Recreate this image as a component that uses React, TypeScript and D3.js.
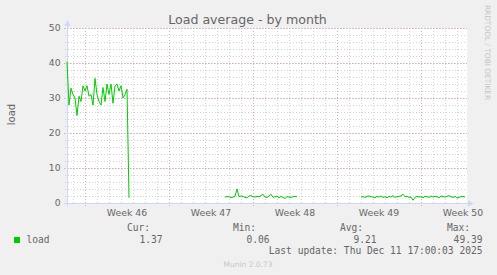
import React from "react";
import * as d3 from "d3";

const TITLE = "Load average - by month";
const Y_LABEL = "load";
const SERIES_NAME = "load";
const SERIES_COLOR = "#00CC00";
const Y_TICKS = [0, 10, 20, 30, 40, 50];
const WEEK_LABELS = ["Week 46", "Week 47", "Week 48", "Week 49", "Week 50"];
const LEGEND_HEADERS = ["Cur:", "Min:", "Avg:", "Max:"];
const LEGEND_VALUES = ["1.37", "0.06", "9.21", "49.39"];
const LAST_UPDATE = "Last update: Thu Dec 11 17:00:03 2025";
const FOOTER = "Munin 2.0.73";
const WATERMARK = "RRDTOOL / TOBI OETIKER";

const RANGE_START = "2025-11-08T12:00:00Z";
const RANGE_END = "2025-12-11T20:00:00Z";
const STEP_HOURS = 4;

const SEG1_START = "2025-11-08T12:00:00Z";
const SEG1 = [
  40.4, 28.0, 32.8, 31.0, 30.0, 25.0, 30.5, 29.0, 33.5, 32.0, 33.5, 30.5, 31.0, 28.0, 35.6, 31.0,
  29.0, 28.0, 33.0, 29.0, 34.0, 31.0, 34.0, 28.5, 33.5, 34.0, 32.0, 33.5, 30.0, 31.0, 32.5, 1.5,
];
const SEG2_START = "2025-11-21T16:00:00Z";
const SEG2 = [
  1.6, 1.9, 1.8, 1.5, 1.7, 1.9, 4.0, 1.8, 2.0, 1.9, 1.6, 1.5, 2.0, 2.1, 1.8, 1.7, 1.9, 1.8, 2.1,
  2.5, 1.7, 1.6, 2.0, 2.5, 1.6, 1.8, 2.0, 1.5, 1.9, 1.6, 1.3, 1.8, 1.7, 1.6, 1.8, 1.9, 1.8,
];
const SEG3_START = "2025-12-03T00:00:00Z";
const SEG3 = [
  1.7, 1.8, 1.6, 1.9, 2.0, 1.8, 1.7, 1.5, 1.9, 1.7, 2.0, 1.6, 1.8, 1.5, 1.9, 1.7, 2.1, 1.6, 1.8,
  1.9, 2.0, 2.5, 1.8, 1.9, 1.6, 1.7, 0.8, 1.6, 1.9, 1.7, 1.8, 1.5, 1.9, 1.8, 1.6, 2.0, 1.7, 1.9,
  1.8, 1.5, 2.0, 1.8, 1.7, 1.9, 2.1, 1.8, 1.6, 1.9, 1.4, 1.6, 1.8, 1.9, 1.7,
];

const W = 497;
const H = 275;
const PL = 67;
const PR = 467;
const PT = 28;
const PB = 203;

const AXIS = "#CFD6F8";
const GRID = "#D2D2D2";
const MGRID = "#EBA9A9";
const FONT = "#666666";
const SANS = "'DejaVu Sans', sans-serif";
const MONO = "'DejaVu Sans Mono', monospace";

type Pt = { t: Date; v: number };

function seg(start: string, vals: number[]): Pt[] {
  const s = new Date(start).getTime();
  return vals.map((v, i) => ({ t: new Date(s + i * STEP_HOURS * 3600e3), v }));
}

export default function App() {
  const x = d3.scaleUtc().domain([new Date(RANGE_START), new Date(RANGE_END)]).range([PL, PR]);
  const y = d3.scaleLinear().domain([0, 50]).range([PB, PT]);
  const [d0, d1] = x.domain();
  const days = d3.utcDay.range(d0, d1);
  const mondays = d3.utcMonday.range(d0, d1);
  const yMinor = d3.range(0, 51, 2);
  const line = d3
    .line<Pt>()
    .x((p) => x(p.t))
    .y((p) => y(p.v));
  const segments = [seg(SEG1_START, SEG1), seg(SEG2_START, SEG2), seg(SEG3_START, SEG3)];

  const headerRight = [150, 256, 363, 470];
  const valueRight = [162.5, 269.5, 376.5, 482.5];

  return (
    <svg
      width={W}
      height={H}
      style={{ position: "absolute", left: 0, top: 0 }}
      xmlns="http://www.w3.org/2000/svg"
    >
      <rect x={0} y={0} width={W} height={H} fill="#F0F0F0" />
      <rect x={PL} y={PT} width={PR - PL} height={PB - PT} fill="#FFFFFF" />

      {/* minor grid */}
      {days.map((d, i) => (
        <line key={"vd" + i} x1={x(d) + 0.5} x2={x(d) + 0.5} y1={PT} y2={PB + 2} stroke={GRID} strokeDasharray="1,2" />
      ))}
      {yMinor.map((v, i) => (
        <line key={"hm" + i} x1={PL - 2} x2={PR} y1={y(v) + 0.5} y2={y(v) + 0.5} stroke={GRID} strokeDasharray="1,2" />
      ))}
      {/* major grid */}
      {mondays.map((d, i) => (
        <line key={"vm" + i} x1={x(d) + 0.5} x2={x(d) + 0.5} y1={PT} y2={PB + 3} stroke={MGRID} strokeDasharray="1,2" />
      ))}
      {Y_TICKS.map((v, i) => (
        <line key={"hM" + i} x1={PL - 3} x2={PR} y1={y(v) + 0.5} y2={y(v) + 0.5} stroke={MGRID} strokeDasharray="1,2" />
      ))}

      {/* axes */}
      <line x1={PL + 0.5} x2={PL + 0.5} y1={PB + 3} y2={PT - 6} stroke={AXIS} />
      <line x1={PL - 3} x2={PR + 2} y1={PB + 0.5} y2={PB + 0.5} stroke={AXIS} />
      <path d={`M${PL - 2.5},${PT - 2} L${PL + 0.5},${PT - 8} L${PL + 3.5},${PT - 2} Z`} fill={AXIS} />
      <path d={`M${PR + 1},${PB - 2.5} L${PR + 7},${PB + 0.5} L${PR + 1},${PB + 3.5} Z`} fill={AXIS} />

      {/* data */}
      {segments.map((s, i) => (
        <path key={"s" + i} d={line(s) || ""} fill="none" stroke={SERIES_COLOR} strokeWidth={1} />
      ))}

      {/* y tick labels */}
      {Y_TICKS.map((v, i) => (
        <text key={"yl" + i} x={60.5} y={y(v) + 3.4} textAnchor="end" fontFamily={SANS} fontSize={9.2} fill={FONT}>
          {v}
        </text>
      ))}
      {/* x labels */}
      {mondays.map((d, i) => (
        <text
          key={"xl" + i}
          x={x(new Date(d.getTime() + 3.5 * 86400e3))}
          y={216}
          textAnchor="middle"
          fontFamily={SANS}
          fontSize={9.3}
          fill={FONT}
        >
          {WEEK_LABELS[i]}
        </text>
      ))}

      {/* title */}
      <text x={247.5} y={23.5} textAnchor="middle" fontFamily={SANS} fontSize={12.6} fill={FONT}>
        {TITLE}
      </text>
      {/* y label */}
      <text
        transform={`translate(14.5,114.5) rotate(-90)`}
        textAnchor="middle"
        fontFamily={SANS}
        fontSize={10}
        fill={FONT}
      >
        {Y_LABEL}
      </text>
      {/* watermark */}
      <text
        transform={`translate(485,52.5) rotate(90)`}
        textAnchor="middle"
        fontFamily={SANS}
        fontSize={7.4}
        fill="#C4C4C4"
      >
        {WATERMARK}
      </text>

      {/* legend */}
      {LEGEND_HEADERS.map((h, i) => (
        <text key={"lh" + i} x={headerRight[i]} y={230.7} textAnchor="end" fontFamily={MONO} fontSize={9.6} fill={FONT}>
          {h}
        </text>
      ))}
      <rect x={14} y={237} width={6} height={6} fill={SERIES_COLOR} />
      <text x={26.5} y={243} fontFamily={MONO} fontSize={9.6} fill={FONT}>
        {SERIES_NAME}
      </text>
      {LEGEND_VALUES.map((v, i) => (
        <text key={"lv" + i} x={valueRight[i]} y={243} textAnchor="end" fontFamily={MONO} fontSize={9.6} fill={FONT}>
          {v}
        </text>
      ))}
      <text x={482.5} y={254.3} textAnchor="end" fontFamily={MONO} fontSize={9.6} fill={FONT}>
        {LAST_UPDATE}
      </text>
      <text x={248} y={266.5} textAnchor="middle" fontFamily={SANS} fontSize={7.5} fill="#C8C8C8">
        {FOOTER}
      </text>
    </svg>
  );
}
